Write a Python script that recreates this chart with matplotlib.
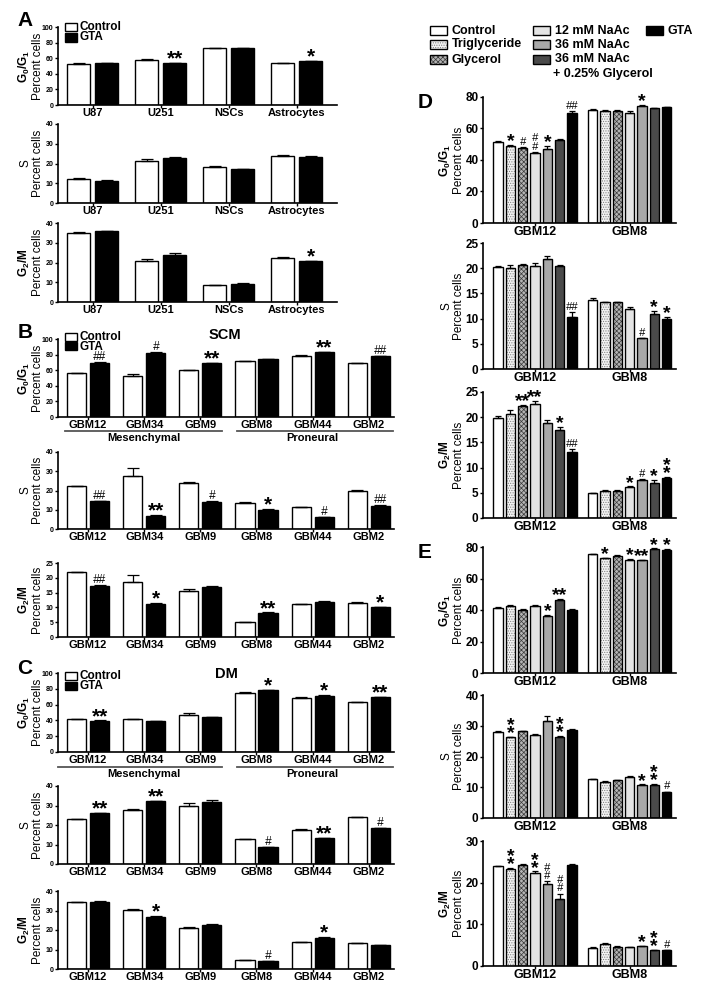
import numpy as np
import matplotlib
matplotlib.use('Agg')
import matplotlib.pyplot as plt
from matplotlib.patches import Rectangle
import matplotlib.transforms as mtransforms

plt.rcParams['font.family'] = ['Liberation Sans', 'DejaVu Sans']
plt.rcParams['font.weight'] = 'bold'
plt.rcParams['mathtext.fontset'] = 'custom'
plt.rcParams['mathtext.rm'] = 'Liberation Sans:bold'
plt.rcParams['mathtext.it'] = 'Liberation Sans:bold'
plt.rcParams['mathtext.bf'] = 'Liberation Sans:bold'
plt.rcParams['mathtext.default'] = 'bf'
plt.rcParams['hatch.linewidth'] = 0.5

# ---------------- panel A: cell lines ----------------
a_cats = ['U87', 'U251', 'NSCs', 'Astrocytes']
a_g1_ctrl = [53.0, 58.0, 72.5, 53.5]
a_g1_ctrl_err = [0.3, 0.5, 0.5, 0.3]
a_g1_gta = [53.5, 53.5, 72.5, 56.0]
a_g1_gta_err = [0.3, 0.4, 0.3, 0.4]
a_g1_marks = ['', '**', '', '*']

a_s_ctrl = [12.3, 21.5, 18.0, 23.8]
a_s_ctrl_err = [0.3, 0.6, 0.5, 0.3]
a_s_gta = [11.2, 23.0, 17.0, 23.5]
a_s_gta_err = [0.6, 0.3, 0.3, 0.3]
a_s_marks = ['', '', '', '']

a_g2_ctrl = [35.0, 20.8, 8.6, 22.3]
a_g2_ctrl_err = [0.3, 1.0, 0.2, 0.3]
a_g2_gta = [35.8, 24.0, 9.2, 20.6]
a_g2_gta_err = [0.3, 0.8, 0.2, 0.2]
a_g2_marks = ['', '', '', '*']

# ---------------- panels B (SCM) and C (DM): GBM lines ----------------
gbm_cats = ['GBM12', 'GBM34', 'GBM9', 'GBM8', 'GBM44', 'GBM2']
subtypes = ['Mesenchymal', 'Proneural']

b_g1_ctrl = [56.6, 53.2, 59.7, 71.7, 78.5, 69.3]
b_g1_ctrl_err = [0.3, 2.2, 0.6, 0.3, 0.4, 0.3]
b_g1_gta = [69.5, 82.4, 69.0, 74.2, 82.8, 78.0]
b_g1_gta_err = [0.4, 0.3, 0.3, 0.3, 0.3, 0.3]
b_g1_marks = ['##', '#', '**', '', '**', '##']

b_s_ctrl = [22.3, 27.6, 23.7, 13.7, 11.2, 19.9]
b_s_ctrl_err = [0.2, 4.3, 0.6, 0.5, 0.3, 0.2]
b_s_gta = [14.4, 7.0, 13.9, 10.1, 6.2, 12.0]
b_s_gta_err = [0.2, 0.3, 0.8, 0.4, 0.2, 0.3]
b_s_marks = ['##', '**', '#', '*', '#', '##']

b_g2_ctrl = [21.9, 18.5, 15.7, 4.9, 11.0, 11.5]
b_g2_ctrl_err = [0.1, 2.4, 0.5, 0.1, 0.2, 0.3]
b_g2_gta = [17.3, 11.0, 17.0, 8.0, 11.8, 10.0]
b_g2_gta_err = [0.3, 0.5, 0.2, 0.3, 0.2, 0.2]
b_g2_marks = ['##', '*', '', '**', '', '*']

c_g1_ctrl = [42.1, 41.3, 47.2, 75.3, 68.9, 63.0]
c_g1_ctrl_err = [0.3, 0.3, 1.8, 0.4, 0.3, 0.3]
c_g1_gta = [39.6, 38.7, 44.3, 77.9, 71.5, 69.2]
c_g1_gta_err = [0.4, 0.9, 0.4, 0.5, 0.4, 0.3]
c_g1_marks = ['**', '', '', '*', '*', '**']

c_s_ctrl = [23.1, 27.6, 29.8, 12.6, 17.4, 23.9]
c_s_ctrl_err = [0.2, 0.6, 1.6, 0.2, 0.3, 0.2]
c_s_gta = [25.9, 32.2, 31.7, 8.5, 13.1, 18.4]
c_s_gta_err = [0.4, 0.3, 1.0, 0.3, 0.3, 0.2]
c_s_marks = ['**', '**', '', '#', '**', '#']

c_g2_ctrl = [34.2, 30.4, 21.2, 4.4, 13.8, 13.2]
c_g2_ctrl_err = [0.2, 0.6, 0.3, 0.1, 0.2, 0.2]
c_g2_gta = [34.5, 26.8, 22.7, 3.9, 15.9, 12.3]
c_g2_gta_err = [0.3, 0.3, 0.3, 0.3, 0.4, 0.2]
c_g2_marks = ['', '*', '', '#', '*', '']

# ---------------- panels D and E: treatments ----------------
treatments = ['Control', 'Triglyceride', 'Glycerol', '12 mM NaAc',
              '36 mM NaAc', '36 mM NaAc\n+ 0.25% Glycerol', 'GTA']
de_groups = ['GBM12', 'GBM8']

d_g1_gbm12 = [51.7, 49.2, 47.6, 44.7, 47.3, 52.6, 69.6]
d_g1_gbm12_err = [0.3, 0.6, 0.4, 0.5, 1.5, 0.6, 1.5]
d_g1_gbm12_marks = ['', '*', '#', '#|#', '*', '', '##']
d_g1_gbm8 = [71.8, 71.0, 71.0, 69.8, 74.3, 72.8, 73.4]
d_g1_gbm8_err = [0.3, 0.8, 0.5, 1.0, 0.5, 0.4, 0.3]
d_g1_gbm8_marks = ['', '', '', '', '*', '', '']

d_s_gbm12 = [20.3, 20.1, 20.6, 20.5, 21.9, 20.5, 10.3]
d_s_gbm12_err = [0.2, 0.6, 0.2, 0.6, 0.6, 0.1, 1.0]
d_s_gbm12_marks = ['', '', '', '', '', '', '##']
d_s_gbm8 = [13.6, 13.2, 13.2, 11.9, 6.1, 11.0, 9.9]
d_s_gbm8_err = [0.5, 0.1, 0.1, 0.4, 0.1, 0.6, 0.4]
d_s_gbm8_marks = ['', '', '', '', '#', '*', '*']

d_g2_gbm12 = [19.9, 20.7, 22.3, 22.7, 18.8, 17.4, 13.0]
d_g2_gbm12_err = [0.4, 0.7, 0.2, 0.6, 0.6, 0.7, 0.7]
d_g2_gbm12_marks = ['', '', '**', '**', '', '*', '##']
d_g2_gbm8 = [4.9, 5.4, 5.4, 6.1, 7.6, 7.0, 7.9]
d_g2_gbm8_err = [0.1, 0.2, 0.1, 0.2, 0.1, 0.5, 0.2]
d_g2_gbm8_marks = ['', '', '', '*', '#', '*', '*|*']

e_g1_gbm12 = [41.4, 42.7, 40.3, 42.7, 36.3, 46.6, 40.3]
e_g1_gbm12_err = [0.4, 0.3, 0.2, 0.3, 0.5, 0.3, 0.3]
e_g1_gbm12_marks = ['', '', '', '', '*', '**', '']
e_g1_gbm8 = [75.3, 73.0, 74.6, 71.6, 71.6, 78.8, 78.4]
e_g1_gbm8_err = [0.3, 0.3, 0.2, 0.8, 0.2, 0.3, 0.2]
e_g1_gbm8_marks = ['', '*', '', '*', '**', '*', '*']

e_s_gbm12 = [28.0, 26.2, 28.2, 27.1, 31.6, 26.5, 28.5]
e_s_gbm12_err = [0.2, 0.3, 0.2, 0.3, 1.6, 0.3, 0.4]
e_s_gbm12_marks = ['', '*|*', '', '', '', '*|*', '']
e_s_gbm8 = [12.6, 11.8, 12.2, 13.2, 10.7, 10.8, 8.5]
e_s_gbm8_err = [0.2, 0.2, 0.1, 0.3, 0.2, 0.2, 0.1]
e_s_gbm8_marks = ['', '', '', '', '*', '*|*', '#']

e_g2_gbm12 = [24.0, 23.2, 24.2, 22.4, 19.6, 16.2, 24.3]
e_g2_gbm12_err = [0.1, 0.3, 0.2, 0.3, 0.7, 1.2, 0.2]
e_g2_gbm12_marks = ['', '*|*', '', '*|*', '#|#', '#|#', '']
e_g2_gbm8 = [4.4, 5.3, 4.6, 4.5, 4.7, 3.8, 3.8]
e_g2_gbm8_err = [0.1, 0.2, 0.1, 0.1, 0.2, 0.1, 0.1]
e_g2_gbm8_marks = ['', '', '', '', '*', '*|*', '#']

# bar looks for the seven treatments
t_face = ['white', '#f2f2f2', '#b4b4b4', '#e4e4e4', '#a8a8a8', '#4a4a4a', 'black']
t_hatch = [None, '.......', 'xxxxxxx', None, None, None, None]
t_hcol = ['black', '#7a7a7a', '#3a3a3a', 'black', 'black', 'black', 'black']

G1_LAB = '$G_0/G_1$\nPercent cells'
S_LAB = 'S\nPercent cells'
G2_LAB = '$G_2/M$\nPercent cells'

W, H = 714, 999
fig = plt.figure(figsize=(W / 100, H / 100), dpi=100)


def px_axes(left, top, right, bottom):
    ax = fig.add_axes([left / W, 1 - bottom / H, (right - left) / W, (bottom - top) / H])
    ax._wpx = right - left
    return ax


def ftext(x, y, s, **kw):
    fig.text(x / W, 1 - y / H, s, **kw)


def fbox(x0, y0, x1, y1, face, hatch=None, hcol='black'):
    fig.add_artist(Rectangle((x0 / W, 1 - y1 / H), (x1 - x0) / W, (y1 - y0) / H,
                             transform=fig.transFigure, facecolor=face,
                             edgecolor=hcol, lw=0, hatch=hatch))
    fig.add_artist(Rectangle((x0 / W, 1 - y1 / H), (x1 - x0) / W, (y1 - y0) / H,
                             transform=fig.transFigure, fill=False,
                             edgecolor='black', lw=1.0))


def style(ax, fs, ylab, ylab_px):
    for s in ['top', 'right']:
        ax.spines[s].set_visible(False)
    for s in ['left', 'bottom']:
        ax.spines[s].set_linewidth(1.2)
    ax.tick_params(axis='y', length=2.2, width=1.0, pad=1, labelsize=fs)
    ax.tick_params(axis='x', length=2.2, width=1.0, pad=0.3)
    ax.set_ylabel(ylab, fontsize=8.5, linespacing=1.05)
    ax.yaxis.set_label_coords(-ylab_px / ax._wpx, 0.5)


def mark(ax, x, y, s, fs_star, fs_hash):
    # stacked marks are separated by '|'
    lift = 0.0
    for part in s.split('|'):
        if '*' in part:
            ax.annotate(part, (x, y), xytext=(0, lift + 1.4 - 0.17 * fs_star),
                        textcoords='offset points', ha='center', va='baseline',
                        fontsize=fs_star, fontweight='bold', annotation_clip=False)
            lift += 0.42 * fs_star
        else:
            ax.annotate(part, (x, y), xytext=(0, lift + 1.5),
                        textcoords='offset points', ha='center', va='baseline',
                        fontsize=fs_hash, fontweight='normal', fontstyle='italic',
                        annotation_clip=False)
            lift += 0.78 * fs_hash


def ctrl_gta(ax, cats, ctrl, ctrl_err, gta, gta_err, marks, ymax, ystep, ylab, xr):
    x = np.arange(len(cats))
    off, w = 0.205, 0.34
    ek = dict(elinewidth=0.9, capthick=0.9, ecolor='black')
    ax.bar(x - off, ctrl, w, color='white', edgecolor='black', linewidth=1.0,
           yerr=[np.zeros(len(x)), ctrl_err], capsize=4, error_kw=ek)
    ax.bar(x + off, gta, w, color='black', edgecolor='black', linewidth=1.0,
           yerr=[np.zeros(len(x)), gta_err], capsize=4, error_kw=ek)
    for xi, v, e, m in zip(x + off, gta, gta_err, marks):
        if m:
            mark(ax, xi, v + e, m, 15, 8.5)
    ax.set_xlim(*xr)
    ax.set_ylim(0, ymax)
    ax.set_yticks(np.arange(0, ymax + 1, ystep))
    ax.set_xticks(x)
    ax.set_xticklabels(cats, fontsize=8)
    style(ax, 5, ylab, 14)


def subtype_lines(ax, yline, ylab, x0):
    tr = mtransforms.blended_transform_factory(ax.transData, ax.transAxes)
    for (a, b), xc, name in zip([(x0, 2.39), (2.66, 5.43)], [1, 4], subtypes):
        ax.plot([a, b], [yline, yline], color='#555555', lw=1.3, transform=tr, clip_on=False)
        ax.text(xc, ylab, name, transform=tr, ha='center', va='center', fontsize=8)


def treat_panel(ax, v12, e12, m12, v8, e8, m8, ymax, ystep, ylab):
    pitch, w = 0.13, 0.1
    vals = np.array([v12, v8])
    errs = np.array([e12, e8])
    mks = [m12, m8]
    gx = np.arange(len(de_groups))
    for i in range(len(treatments)):
        xs = gx + (i - 3) * pitch
        ax.bar(xs, vals[:, i], w, color=t_face[i], edgecolor=t_hcol[i], lw=0,
               hatch=t_hatch[i])
        ax.bar(xs, vals[:, i], w, fill=False, edgecolor='black', lw=1.0)
        ax.errorbar(xs, vals[:, i], yerr=[np.zeros(2), errs[:, i]], fmt='none',
                    ecolor='black', elinewidth=0.9, capsize=2, capthick=0.9)
        for g in range(2):
            if mks[g][i]:
                mark(ax, xs[g], vals[g, i] + errs[g, i], mks[g][i], 14, 8)
    ax.set_xlim(-0.55, 1.49)
    ax.set_ylim(0, ymax)
    ax.set_yticks(np.arange(0, ymax + 1, ystep))
    ax.set_xticks(gx)
    ax.set_xticklabels(de_groups, fontsize=9)
    style(ax, 8.5, ylab, 18)


# ---- panel A ----
xr_a = (-0.51, 3.59)
ax = px_axes(58, 27, 337, 105)
ctrl_gta(ax, a_cats, a_g1_ctrl, a_g1_ctrl_err, a_g1_gta, a_g1_gta_err, a_g1_marks, 100, 20, G1_LAB, xr_a)
ax = px_axes(58, 124, 337, 203)
ctrl_gta(ax, a_cats, a_s_ctrl, a_s_ctrl_err, a_s_gta, a_s_gta_err, a_s_marks, 40, 10, S_LAB, xr_a)
ax = px_axes(58, 223, 337, 302)
ctrl_gta(ax, a_cats, a_g2_ctrl, a_g2_ctrl_err, a_g2_gta, a_g2_gta_err, a_g2_marks, 40, 10, G2_LAB, xr_a)

# ---- panel B ----
xr_b = (-0.536, 5.45)
ax = px_axes(58, 339, 394, 417)
ctrl_gta(ax, gbm_cats, b_g1_ctrl, b_g1_ctrl_err, b_g1_gta, b_g1_gta_err, b_g1_marks, 100, 20, G1_LAB, xr_b)
subtype_lines(ax, -0.18, -0.275, -0.41)
ax = px_axes(58, 452, 394, 529)
ctrl_gta(ax, gbm_cats, b_s_ctrl, b_s_ctrl_err, b_s_gta, b_s_gta_err, b_s_marks, 40, 10, S_LAB, xr_b)
ax = px_axes(58, 563, 394, 637)
ctrl_gta(ax, gbm_cats, b_g2_ctrl, b_g2_ctrl_err, b_g2_gta, b_g2_gta_err, b_g2_marks, 25, 5, G2_LAB, xr_b)

# ---- panel C ----
ax = px_axes(58, 673, 394, 752)
ctrl_gta(ax, gbm_cats, c_g1_ctrl, c_g1_ctrl_err, c_g1_gta, c_g1_gta_err, c_g1_marks, 100, 20, G1_LAB, xr_b)
subtype_lines(ax, -0.185, -0.275, -0.536)
ax = px_axes(58, 786, 394, 864)
ctrl_gta(ax, gbm_cats, c_s_ctrl, c_s_ctrl_err, c_s_gta, c_s_gta_err, c_s_marks, 40, 10, S_LAB, xr_b)
ax = px_axes(58, 891, 394, 969)
ctrl_gta(ax, gbm_cats, c_g2_ctrl, c_g2_ctrl_err, c_g2_gta, c_g2_gta_err, c_g2_marks, 40, 10, G2_LAB, xr_b)

# ---- panel D ----
ax = px_axes(483, 97, 676, 223)
treat_panel(ax, d_g1_gbm12, d_g1_gbm12_err, d_g1_gbm12_marks, d_g1_gbm8, d_g1_gbm8_err, d_g1_gbm8_marks, 80, 20, G1_LAB)
ax = px_axes(483, 243, 676, 369)
treat_panel(ax, d_s_gbm12, d_s_gbm12_err, d_s_gbm12_marks, d_s_gbm8, d_s_gbm8_err, d_s_gbm8_marks, 25, 5, S_LAB)
ax = px_axes(483, 392, 676, 518)
treat_panel(ax, d_g2_gbm12, d_g2_gbm12_err, d_g2_gbm12_marks, d_g2_gbm8, d_g2_gbm8_err, d_g2_gbm8_marks, 25, 5, G2_LAB)

# ---- panel E ----
ax = px_axes(483, 547, 676, 673)
treat_panel(ax, e_g1_gbm12, e_g1_gbm12_err, e_g1_gbm12_marks, e_g1_gbm8, e_g1_gbm8_err, e_g1_gbm8_marks, 80, 20, G1_LAB)
ax = px_axes(483, 695, 676, 818)
treat_panel(ax, e_s_gbm12, e_s_gbm12_err, e_s_gbm12_marks, e_s_gbm8, e_s_gbm8_err, e_s_gbm8_marks, 40, 10, S_LAB)
ax = px_axes(483, 841, 676, 966)
treat_panel(ax, e_g2_gbm12, e_g2_gbm12_err, e_g2_gbm12_marks, e_g2_gbm8, e_g2_gbm8_err, e_g2_gbm8_marks, 30, 10, G2_LAB)

# ---- Control / GTA legends for A, B, C ----
for y1, y2 in [(27, 37.5), (337, 346.5), (676, 686)]:
    fbox(65, y1 - 4, 77, y1 + 4, 'white')
    fbox(65, y2 - 4, 77, y2 + 4, 'black')
    ftext(79, y1, 'Control', fontsize=8.5, va='center')
    ftext(79, y2, 'GTA', fontsize=8.5, va='center')

# ---- treatment legend for D, E ----
leg_pos = [(430, 30.5), (430, 44.5), (430, 59.5), (533, 30.5), (533, 44.5), (533, 59.5), (646, 30.5)]
for i, (lx, ly) in enumerate(leg_pos):
    fbox(lx, ly - 4.5, lx + 17, ly + 4.5, t_face[i], t_hatch[i], t_hcol[i])
    name = treatments[i].split('\n')
    ftext(lx + 22, ly, name[0], fontsize=9, va='center')
    if len(name) > 1:
        ftext(lx + 20, ly + 15, name[1], fontsize=9, va='center')

# ---- panel letters and titles ----
for letter, x, y in [('A', 25, 21), ('B', 25, 332), ('C', 25, 669), ('D', 425, 103), ('E', 425, 552)]:
    ftext(x, y, letter, fontsize=15, ha='center', va='center')
ftext(225, 335, 'SCM', fontsize=10.5, ha='center', va='center')
ftext(226, 674, 'DM', fontsize=10.5, ha='center', va='center')

fig.savefig('out.png', dpi=100)
